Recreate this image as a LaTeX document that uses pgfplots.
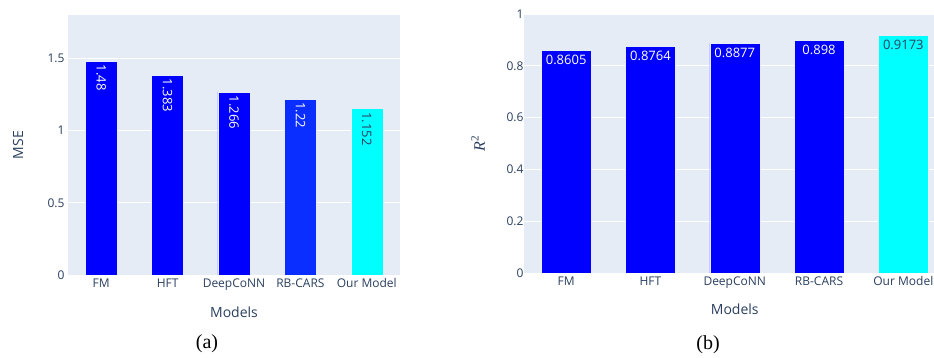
\documentclass[border=0pt]{standalone}
\usepackage{pgfplots}
\pgfplotsset{compat=1.18}
\usepackage{fontspec}
\setmainfont{Open Sans}
\newfontfamily\serif{Liberation Serif}
\definecolor{bg}{HTML}{E5ECF6}
\definecolor{txt}{HTML}{2A3F5F}
\definecolor{bA}{HTML}{0000FF}
\definecolor{bB}{HTML}{0A2EFF}
\definecolor{cy}{HTML}{00FFFF}
\pgfplotsset{
  plotlystyle/.style={
    scale only axis,
    xmin=-0.5, xmax=4.5,
    ymin=0,
    axis line style={draw=none},
    major tick length=0pt,
    axis background/.style={fill=bg},
    ymajorgrids, grid style={white, line width=0.8pt},
    xtick={0,1,2,3,4},
    xticklabels={FM,HFT,DeepCoNN,RB-CARS,Our Model},
    tick label style={font=\fontsize{12}{14}\selectfont, text=txt},
    /pgf/number format/assume math mode=true,
    ybar, bar shift=0pt,
    nodes near coords,
    point meta=explicit symbolic,
    clip=true,
  },
}
\begin{document}
\begin{tikzpicture}
\path[use as bounding box] (0pt,0pt) rectangle (934pt,358pt);
% ---------- (a) MSE ----------
\begin{axis}[plotlystyle,
  at={(68pt,83pt)}, anchor=south west, width=332pt, height=260pt,
  ymax=1.8, ytick={0,0.5,1,1.5},
  yticklabels={0,0.5,1,1.5},
  bar width=32pt,
  xlabel={Models}, ylabel={MSE},
  every axis x label/.style={at={(axis description cs:0.5,-0.1423)}, anchor=center, font=\fontsize{14}{16}\selectfont, text=txt},
  every axis y label/.style={at={(axis description cs:-0.1506,0.5)}, anchor=center, rotate=90, font=\fontsize{14}{16}\selectfont, text=txt},
  every node near coord/.style={rotate=-90, anchor=west, inner sep=3.5pt, font=\fontsize{13}{15}\selectfont},
]
\addplot[fill=bA, draw=bg, line width=0.5pt, every node near coord/.append style={text=white}]
  coordinates {(0,1.48) [1.48] (1,1.383) [1.383] (2,1.266) [1.266]};
\addplot[fill=bB, draw=bg, line width=0.5pt, every node near coord/.append style={text=white}]
  coordinates {(3,1.22) [1.22]};
\addplot[fill=cy, draw=bg, line width=0.5pt, every node near coord/.append style={text=txt}]
  coordinates {(4,1.152) [1.152]};
\end{axis}
% ---------- (b) R^2 ----------
\begin{axis}[plotlystyle,
  at={(524pt,85pt)}, anchor=south west, width=421.5pt, height=259pt,
  ymax=1, ytick={0,0.2,0.4,0.6,0.8,1},
  yticklabels={0,0.2,0.4,0.6,0.8,1},
  yticklabel style={xshift=3pt},
  bar width=50pt,
  xlabel={Models}, ylabel={{\serif\itshape R}\textsuperscript{\serif 2}},
  every axis x label/.style={at={(axis description cs:0.5,-0.139)}, anchor=center, font=\fontsize{14}{16}\selectfont, text=txt},
  every axis y label/.style={at={(axis description cs:-0.1091,0.5)}, anchor=center, rotate=90, font=\fontsize{16}{18}\selectfont, text=txt},
  every node near coord/.style={anchor=north, inner sep=4.5pt, font=\fontsize{13}{15}\selectfont},
]
\addplot[fill=bA, draw=bg, line width=0.5pt, every node near coord/.append style={text=white}]
  coordinates {(0,0.8605) [0.8605] (1,0.8764) [0.8764] (2,0.8877) [0.8877] (3,0.898) [0.898]};
\addplot[fill=cy, draw=bg, line width=0.5pt, every node near coord/.append style={text=txt}]
  coordinates {(4,0.9173) [0.9173]};
\end{axis}
\node[font=\serif\fontsize{20}{22}\selectfont] at (207pt,14pt) {(a)};
\node[font=\serif\fontsize{20}{22}\selectfont] at (708pt,13pt) {(b)};
\end{tikzpicture}
\end{document}
